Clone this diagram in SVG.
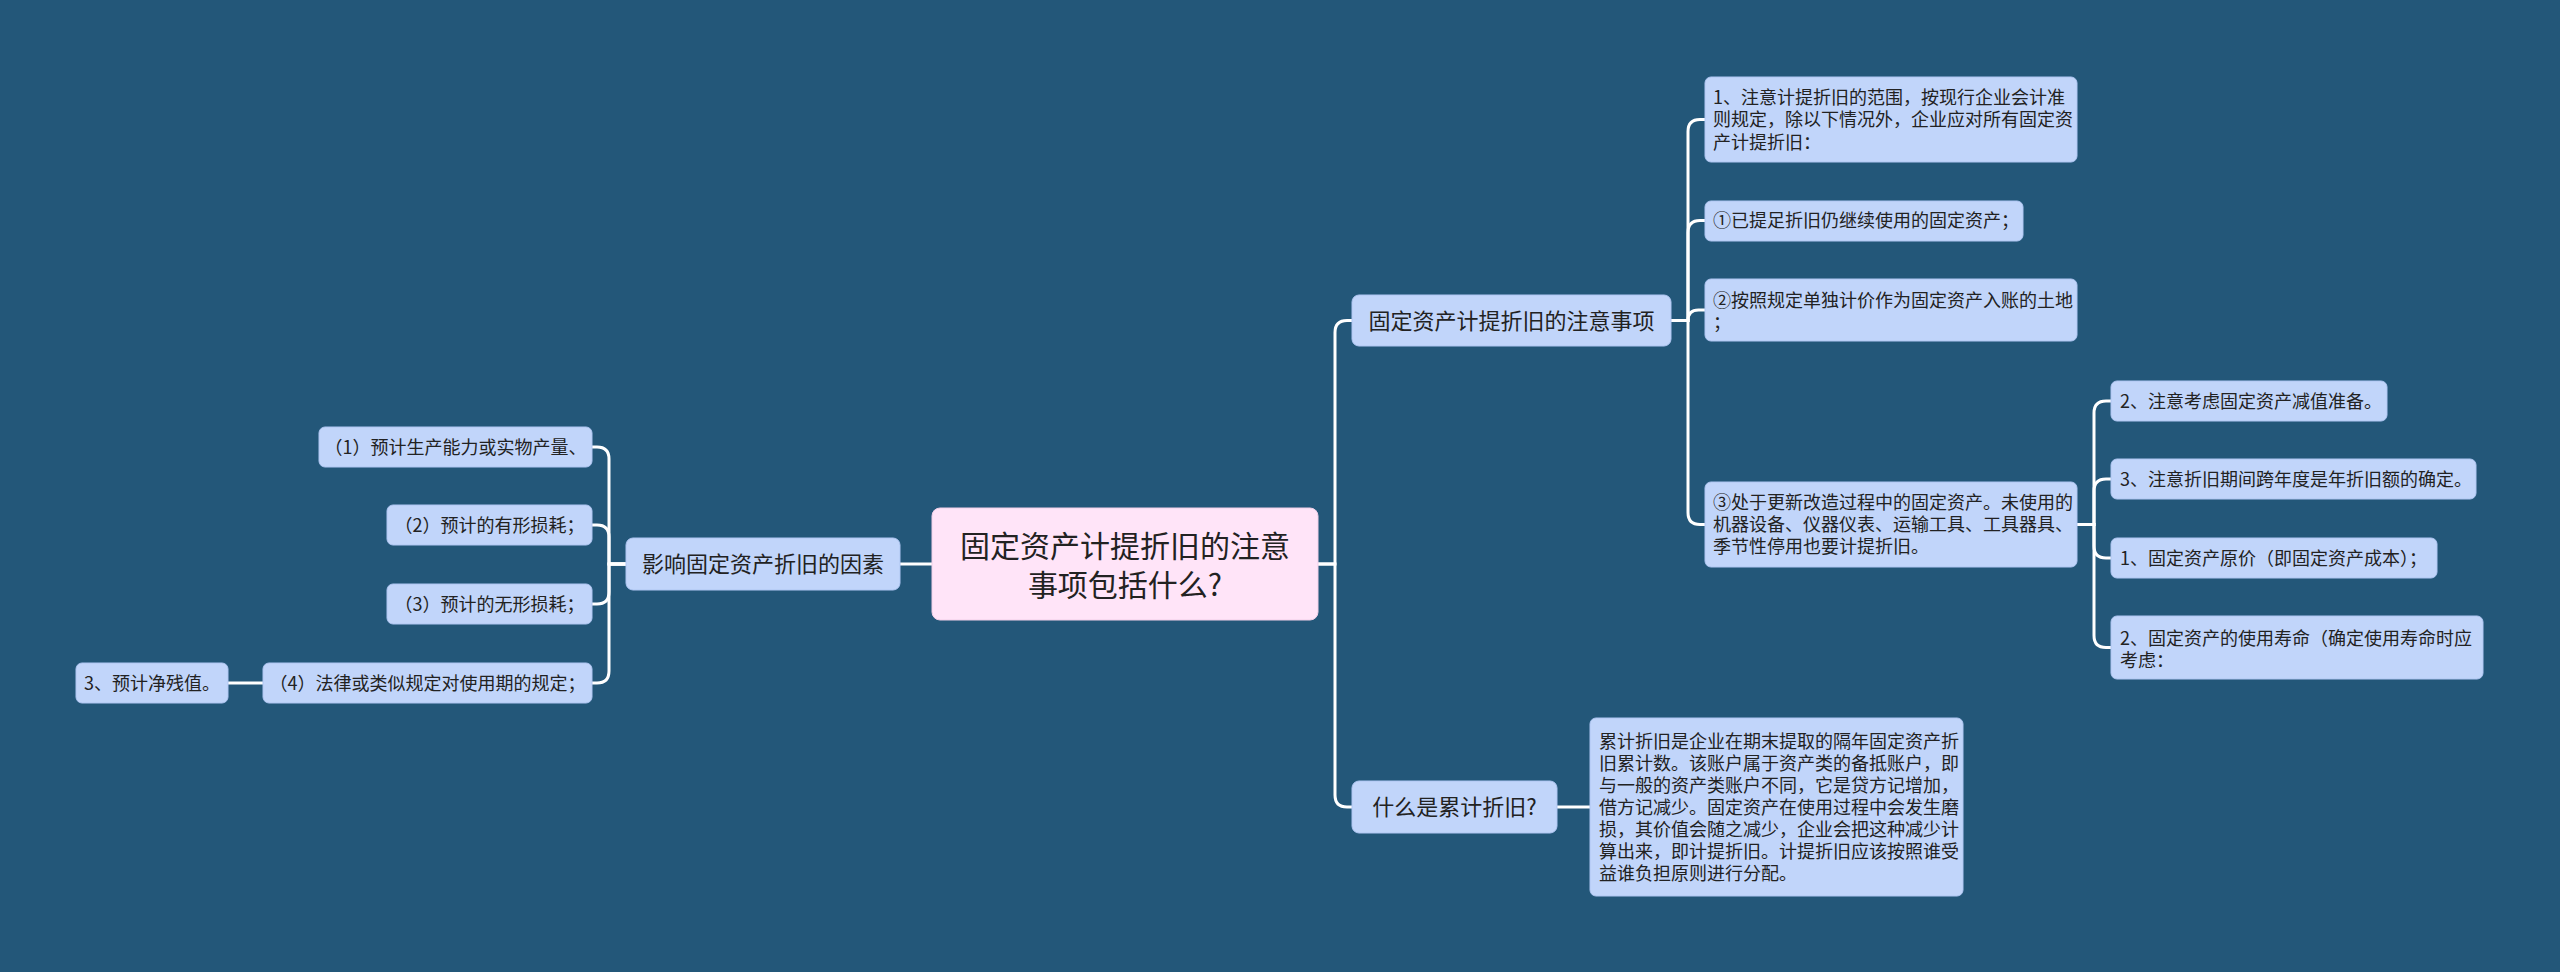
<svg xmlns="http://www.w3.org/2000/svg" width="2560" height="972" viewBox="0 0 2560 972">
<style>
.bg{fill:#235779}
.n{fill:#C1D5FA;stroke:#AFC6F2;stroke-width:1}
.c{fill:#FFE4F8;stroke:#F0CFE8;stroke-width:1}
text{font-family:"Noto Sans CJK SC","Noto Sans",sans-serif;fill:#222}
.s{font-size:18px}
.m{font-size:22px}
.l{font-size:30px}
.mid{text-anchor:middle}
.con path{fill:none;stroke:#FFFFFF;stroke-width:3;stroke-linecap:round}
</style>
<rect class="bg" x="0" y="0" width="2560" height="972"/>
<g class="con" id="connectors">
<path d="M932,564 H900"/>
<path d="M1318,564 H1335 V332.5 Q1335,320.5 1347,320.5 H1352"/>
<path d="M1318,564 H1335 V795 Q1335,807 1347,807 H1352"/>
<path d="M1671,320.5 H1688 V131.5 Q1688,119.5 1700,119.5 H1705"/>
<path d="M1671,320.5 H1688 V232.5 Q1688,220.5 1700,220.5 H1705"/>
<path d="M1671,320.5 H1688 Q1688,310 1698.5,310 H1705"/>
<path d="M1671,320.5 H1688 V512.5 Q1688,524.5 1700,524.5 H1705"/>
<path d="M2077,524.5 H2094 V413 Q2094,401 2106,401 H2111"/>
<path d="M2077,524.5 H2094 V491 Q2094,479 2106,479 H2111"/>
<path d="M2077,524.5 H2094 V546 Q2094,558 2106,558 H2111"/>
<path d="M2077,524.5 H2094 V635.5 Q2094,647.5 2106,647.5 H2111"/>
<path d="M626,564 H609 V459 Q609,447 597,447 H592"/>
<path d="M626,564 H609 V537 Q609,525 597,525 H592"/>
<path d="M626,564 H609 V592 Q609,604 597,604 H592"/>
<path d="M626,564 H609 V671 Q609,683 597,683 H592"/>
<path d="M263,683 H228"/>
<path d="M1557,807 H1590"/>
</g>
<g id="center">
<rect class="c" x="932" y="508" width="386" height="112" rx="8"/>
<text class="l mid" x="1125" y="557">固定资产计提折旧的注意</text>
<text class="l mid" x="1125" y="596">事项包括什么?</text>
</g>
<g id="n-notes">
<rect class="n" x="1352" y="295" width="319" height="51" rx="7"/>
<text class="m mid" x="1511.5" y="328.5">固定资产计提折旧的注意事项</text>
</g>
<g id="n-what">
<rect class="n" x="1352" y="781" width="205" height="52" rx="7"/>
<text class="m mid" x="1454.5" y="815">什么是累计折旧?</text>
</g>
<g id="n-factors">
<rect class="n" x="626" y="538" width="274" height="52" rx="7"/>
<text class="m mid" x="763" y="572">影响固定资产折旧的因素</text>
</g>
<g id="n-scope">
<rect class="n" x="1705" y="77" width="372" height="85" rx="6"/>
<text class="s" x="1713" y="103.5">1、注意计提折旧的范围，按现行企业会计准</text>
<text class="s" x="1713" y="126">则规定，除以下情况外，企业应对所有固定资</text>
<text class="s" x="1713" y="148.5">产计提折旧：</text>
</g>
<g id="n-e1">
<rect class="n" x="1705" y="201" width="318" height="40" rx="6"/>
<text class="s" x="1713" y="227">①已提足折旧仍继续使用的固定资产；</text>
</g>
<g id="n-e2">
<rect class="n" x="1705" y="279" width="372" height="62" rx="6"/>
<text class="s" x="1713" y="306.5">②按照规定单独计价作为固定资产入账的土地</text>
<text class="s" x="1713" y="329">；</text>
</g>
<g id="n-e3">
<rect class="n" x="1705" y="482" width="372" height="85" rx="6"/>
<text class="s" x="1713" y="509">③处于更新改造过程中的固定资产。未使用的</text>
<text class="s" x="1713" y="531">机器设备、仪器仪表、运输工具、工具器具、</text>
<text class="s" x="1713" y="553">季节性停用也要计提折旧。</text>
</g>
<g id="n-r1">
<rect class="n" x="2111" y="381" width="276" height="40" rx="6"/>
<text class="s" x="2120" y="407.5">2、注意考虑固定资产减值准备。</text>
</g>
<g id="n-r2">
<rect class="n" x="2111" y="459" width="365" height="40" rx="6"/>
<text class="s" x="2120" y="485.5">3、注意折旧期间跨年度是年折旧额的确定。</text>
</g>
<g id="n-r3">
<rect class="n" x="2111" y="538" width="326" height="40" rx="6"/>
<text class="s" x="2120" y="564.5">1、固定资产原价（即固定资产成本）；</text>
</g>
<g id="n-r4">
<rect class="n" x="2111" y="616" width="372" height="63" rx="6"/>
<text class="s" x="2120" y="644.5">2、固定资产的使用寿命（确定使用寿命时应</text>
<text class="s" x="2120" y="666.5">考虑：</text>
</g>
<g id="n-para">
<rect class="n" x="1590" y="718" width="373" height="178" rx="6"/>
<text class="s" x="1599" y="747.5">累计折旧是企业在期末提取的隔年固定资产折</text>
<text class="s" x="1599" y="769.5">旧累计数。该账户属于资产类的备抵账户，即</text>
<text class="s" x="1599" y="791.5">与一般的资产类账户不同，它是贷方记增加，</text>
<text class="s" x="1599" y="813.5">借方记减少。固定资产在使用过程中会发生磨</text>
<text class="s" x="1599" y="835.5">损，其价值会随之减少，企业会把这种减少计</text>
<text class="s" x="1599" y="857.5">算出来，即计提折旧。计提折旧应该按照谁受</text>
<text class="s" x="1599" y="879.5">益谁负担原则进行分配。</text>
</g>
<g id="n-f1">
<rect class="n" x="319" y="427" width="273" height="40" rx="6"/>
<text class="s mid" x="455.5" y="453.5">（1）预计生产能力或实物产量、</text>
</g>
<g id="n-f2">
<rect class="n" x="387" y="505" width="205" height="40" rx="6"/>
<text class="s mid" x="489.5" y="531.5">（2）预计的有形损耗；</text>
</g>
<g id="n-f3">
<rect class="n" x="387" y="584" width="205" height="40" rx="6"/>
<text class="s mid" x="489.5" y="610.5">（3）预计的无形损耗；</text>
</g>
<g id="n-f4">
<rect class="n" x="263" y="663" width="329" height="40" rx="6"/>
<text class="s mid" x="427.5" y="689.5">（4）法律或类似规定对使用期的规定；</text>
</g>
<g id="n-f5">
<rect class="n" x="76" y="663" width="152" height="40" rx="6"/>
<text class="s mid" x="152" y="689.5">3、预计净残值。</text>
</g>
</svg>
